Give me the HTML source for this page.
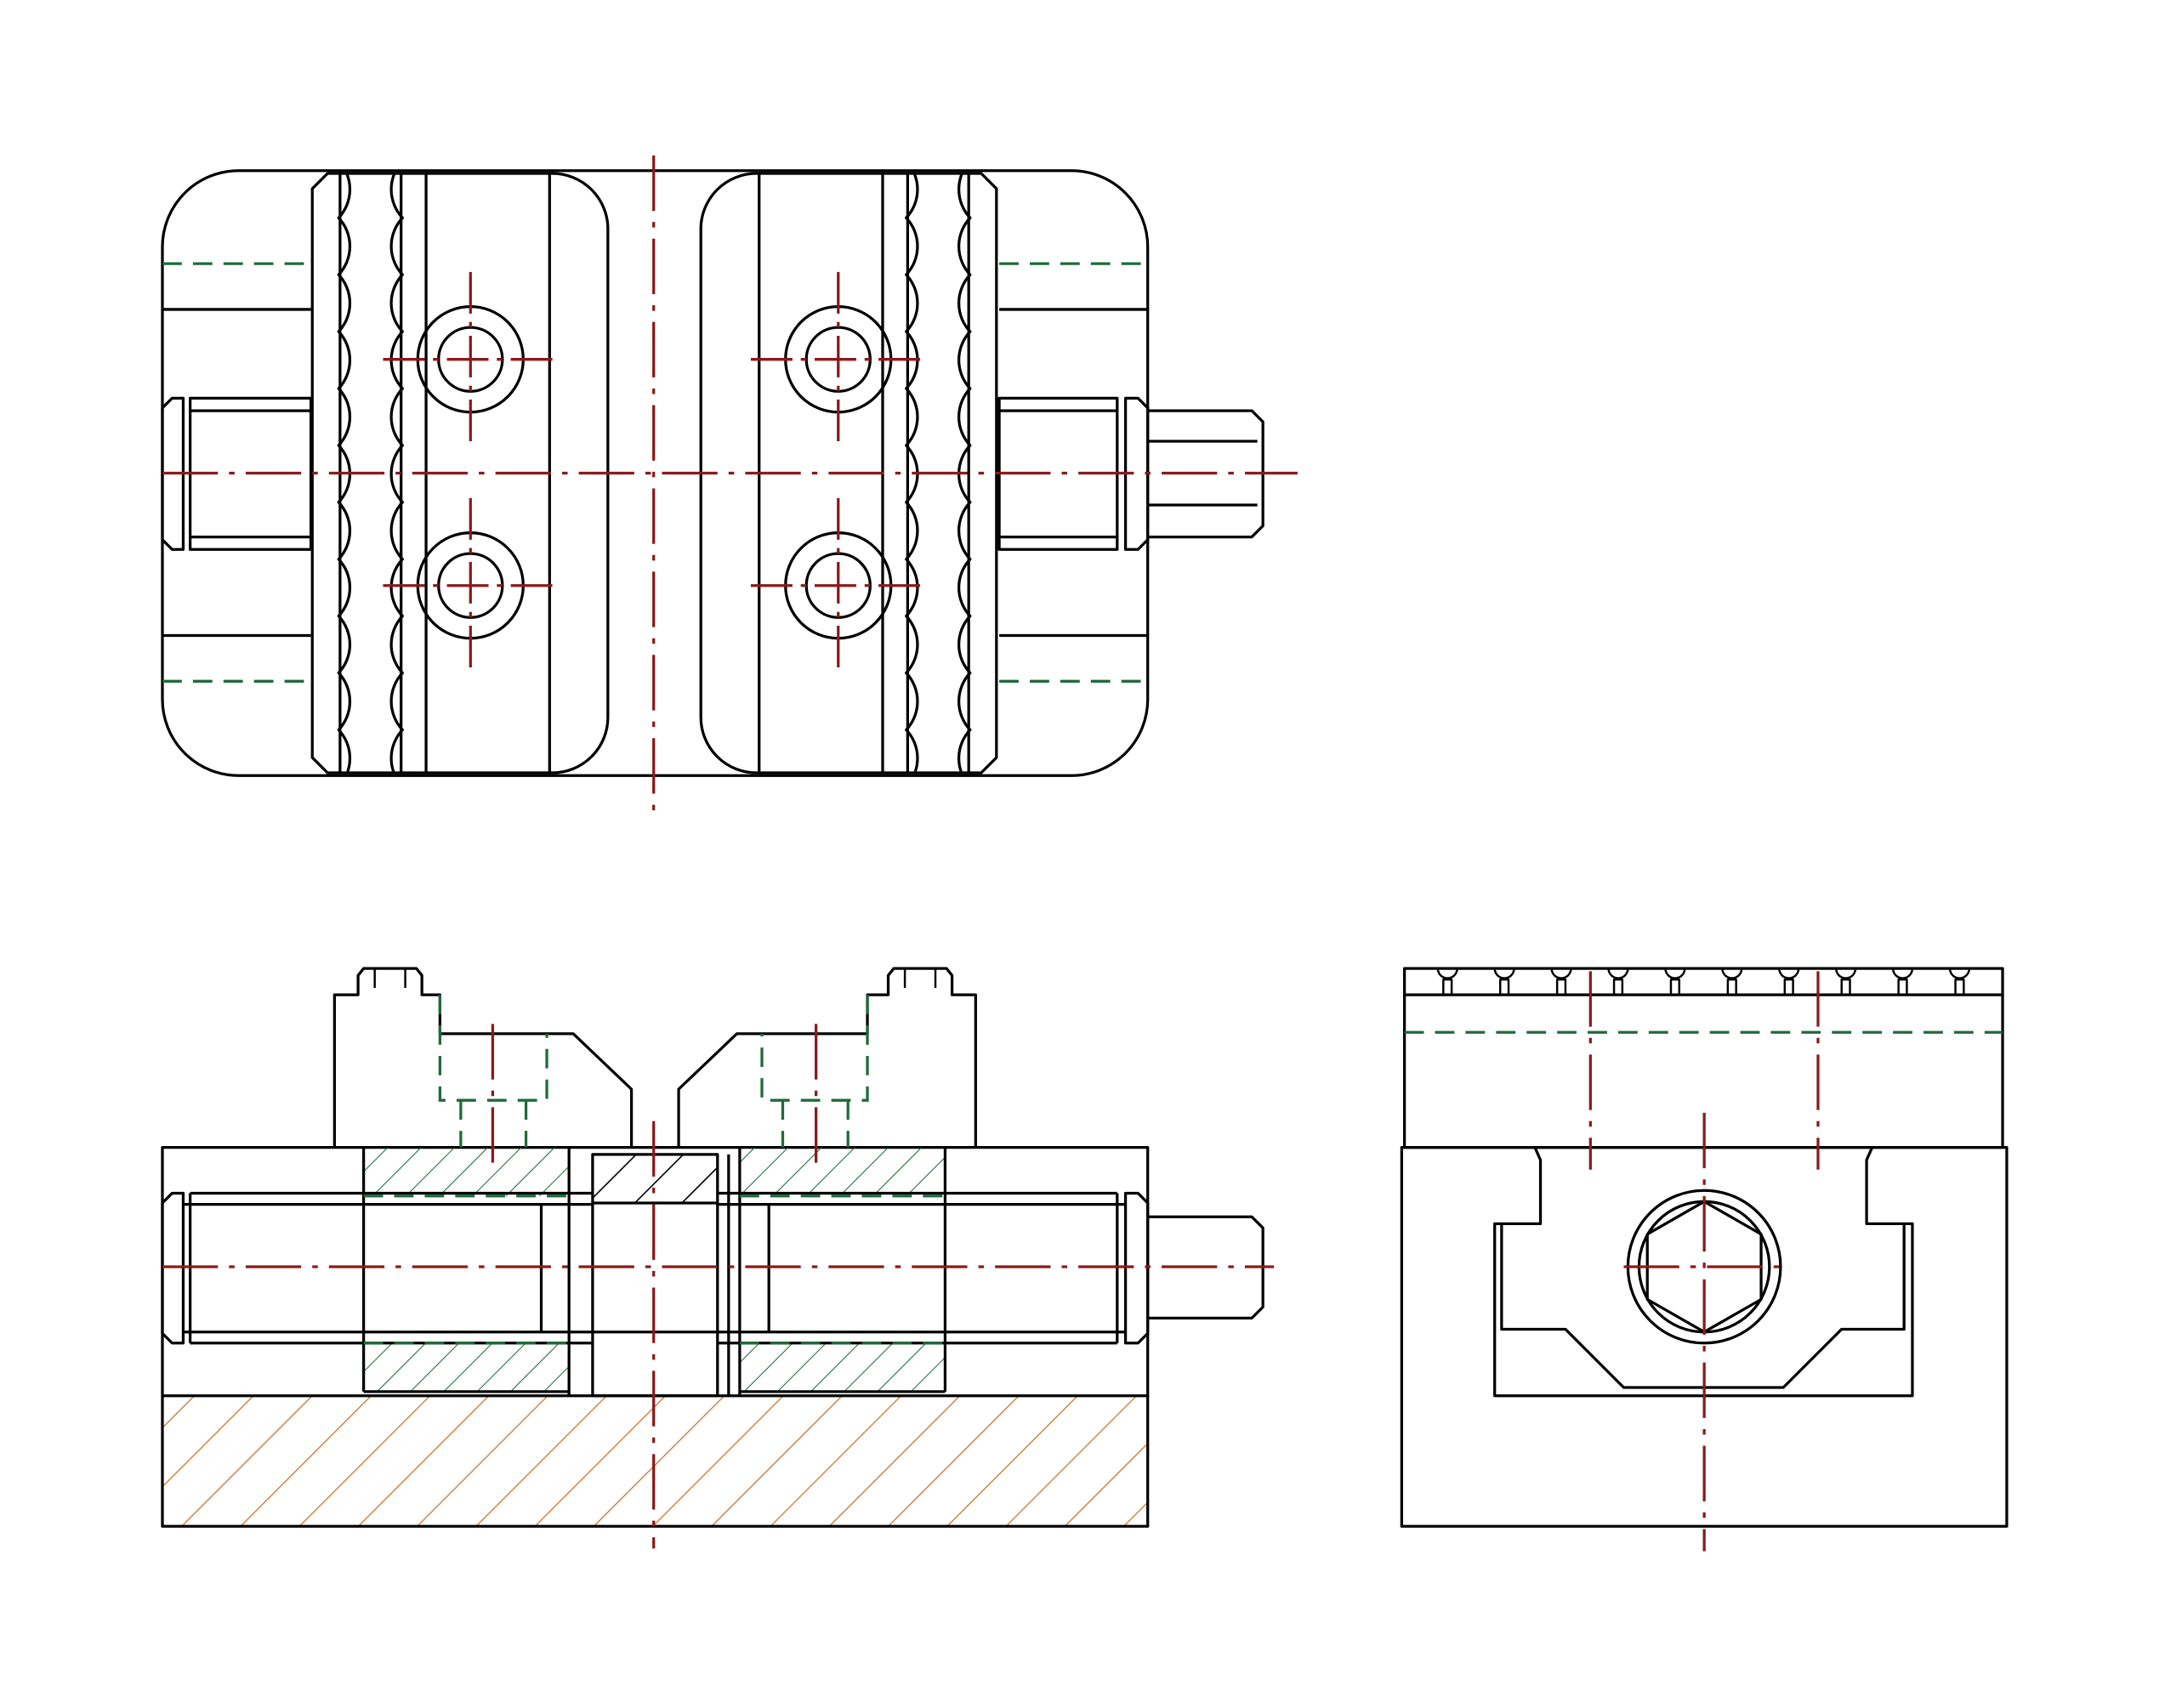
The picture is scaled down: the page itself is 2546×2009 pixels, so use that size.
<!DOCTYPE html>
<html><head><meta charset="utf-8"><style>html,body{margin:0;padding:0;background:#fff}svg{display:block}</style></head>
<body>
<svg width="2546" height="2009" viewBox="0 0 1560 1231" xmlns="http://www.w3.org/2000/svg">
<defs>
<pattern id="ho" patternUnits="userSpaceOnUse" width="30" height="30" patternTransform="rotate(45)">
<line x1="0" y1="0" x2="0" y2="30" stroke="#c87533" stroke-width="1.6"/></pattern>
<pattern id="hg" patternUnits="userSpaceOnUse" width="17" height="17" patternTransform="rotate(45)">
<line x1="0" y1="0" x2="0" y2="17" stroke="#1e6b3a" stroke-width="1.3"/></pattern>
<pattern id="hk" patternUnits="userSpaceOnUse" width="24" height="24" patternTransform="rotate(45)">
<line x1="0" y1="0" x2="0" y2="24" stroke="#000" stroke-width="2"/></pattern>
<clipPath id="jc"><rect x="100" y="126" width="800" height="430"/></clipPath>
</defs>
<g fill="none" stroke="#000" stroke-width="2" stroke-linejoin="round">
<!-- TOP VIEW -->
<path d="M172,123 H772 A55,55 0 0 1 827,178 V504 A55,55 0 0 1 772,559 H172 A55,55 0 0 1 117,504 V178 A55,55 0 0 1 172,123 Z"/>
<line x1="117" y1="223" x2="224" y2="223"/><line x1="117" y1="458" x2="224" y2="458"/>
<line x1="720" y1="223" x2="827" y2="223"/><line x1="720" y1="458" x2="827" y2="458"/>
<path d="M124,287 H132 V396 H124 L117,389 V294 Z"/>
<rect x="137" y="287" width="87" height="109"/><line x1="137" y1="296" x2="224" y2="296"/><line x1="137" y1="387" x2="224" y2="387"/>
<path d="M820,287 H811 V396 H820 L827,389 V294 Z"/>
<rect x="720" y="287" width="85" height="109"/><line x1="720" y1="296" x2="805" y2="296"/><line x1="720" y1="387" x2="805" y2="387"/>
<path d="M827,296 H902 L910,304 V379 L902,387 H827"/><line x1="827" y1="318" x2="906" y2="318"/><line x1="827" y1="364" x2="906" y2="364"/>
<g id="jaw">
<path d="M236,125 H398 A40,40 0 0 1 438,165 V517 A40,40 0 0 1 398,557 H236 L225,546 V136 Z" fill="#fff"/>
<line x1="307" y1="125" x2="307" y2="557"/><line x1="396" y1="125" x2="396" y2="557"/>
<line x1="245" y1="125" x2="245" y2="557"/><line x1="289" y1="125" x2="289" y2="557"/>
<g clip-path="url(#jc)">
<path d="M244,116 A30,30 0 0 1 244,157 A30,30 0 0 1 244,198 A30,30 0 0 1 244,239 A30,30 0 0 1 244,280 A30,30 0 0 1 244,321 A30,30 0 0 1 244,362 A30,30 0 0 1 244,403 A30,30 0 0 1 244,444 A30,30 0 0 1 244,485 A30,30 0 0 1 244,526 A30,30 0 0 1 244,567" />
<path d="M290,116 A30,30 0 0 0 290,157 A30,30 0 0 0 290,198 A30,30 0 0 0 290,239 A30,30 0 0 0 290,280 A30,30 0 0 0 290,321 A30,30 0 0 0 290,362 A30,30 0 0 0 290,403 A30,30 0 0 0 290,444 A30,30 0 0 0 290,485 A30,30 0 0 0 290,526 A30,30 0 0 0 290,567"/>
</g>
<circle cx="339" cy="259" r="38"/><circle cx="339" cy="259" r="23"/>
<circle cx="339" cy="422" r="38"/><circle cx="339" cy="422" r="23"/>
</g>
<use href="#jaw" transform="matrix(-1 0 0 1 943 0)"/>

<!-- FRONT VIEW -->
<rect x="117" y="1006" width="710" height="94" fill="url(#ho)" stroke="none"/>
<rect x="117" y="827" width="710" height="273"/><line x1="117" y1="1006" x2="827" y2="1006"/>
<rect x="262" y="827" width="148" height="35" fill="url(#hg)" stroke="none"/>
<rect x="262" y="968" width="148" height="35" fill="url(#hg)" stroke="none"/>
<rect x="533" y="827" width="148" height="35" fill="url(#hg)" stroke="none"/>
<rect x="533" y="968" width="148" height="35" fill="url(#hg)" stroke="none"/>
<rect x="427" y="832" width="90" height="35" fill="url(#hk)" stroke="none"/>
<line x1="262" y1="827" x2="262" y2="1003"/><line x1="262" y1="1003" x2="410" y2="1003"/><line x1="410" y1="827" x2="410" y2="1006"/>
<line x1="533" y1="827" x2="533" y2="1006"/><line x1="533" y1="1003" x2="681" y2="1003"/><line x1="681" y1="827" x2="681" y2="1003"/>
<rect x="427" y="832" width="90" height="174"/><line x1="427" y1="867" x2="517" y2="867"/><line x1="427" y1="960" x2="517" y2="960"/>
<line x1="525" y1="832" x2="525" y2="1006"/>
<path d="M124,860 H132 V968 H124 L117,961 V867 Z"/>
<path d="M820,860 H811 V968 H820 L827,961 V867 Z"/>
<line x1="137" y1="860" x2="427" y2="860"/><line x1="137" y1="968" x2="427" y2="968"/>
<line x1="132" y1="868" x2="427" y2="868"/><line x1="132" y1="960" x2="427" y2="960"/>
<line x1="137" y1="860" x2="137" y2="968"/>
<line x1="517" y1="860" x2="805" y2="860"/><line x1="517" y1="968" x2="805" y2="968"/>
<line x1="517" y1="868" x2="811" y2="868"/><line x1="517" y1="960" x2="811" y2="960"/>
<line x1="805" y1="860" x2="805" y2="968"/>
<line x1="390" y1="868" x2="390" y2="960"/><line x1="554" y1="868" x2="554" y2="960"/>
<path d="M827,877 H902 L910,885 V942 L902,950 H827"/>
<path d="M241,827 V717 H258 V703 L262,698 H300 L304,703 V717 H317 V745 H413 L455,785 V827"/>
<path d="M703,827 V717 H686 V703 L682,698 H644 L640,703 V717 H625 V745 H531 L489,785 V827"/>
<path d="M270,698 V712 M292,698 V712 M652,698 V712 M674,698 V712" stroke-width="1.5"/>

<!-- SIDE VIEW -->
<rect x="1012" y="698" width="431" height="129"/><line x1="1012" y1="717" x2="1443" y2="717"/>
<g stroke-width="1.5">
<path d="M1040,717 V706 H1046 V717 M1081,717 V706 H1087 V717 M1122,717 V706 H1128 V717 M1163,717 V706 H1169 V717 M1204,717 V706 H1210 V717 M1245,717 V706 H1251 V717 M1286,717 V706 H1292 V717 M1327,717 V706 H1333 V717 M1368,717 V706 H1374 V717 M1409,717 V706 H1415 V717"/>
<path d="M1036,698 A6,6 0 0 0 1050,698 M1077,698 A6,6 0 0 0 1091,698 M1118,698 A6,6 0 0 0 1132,698 M1159,698 A6,6 0 0 0 1173,698 M1200,698 A6,6 0 0 0 1214,698 M1241,698 A6,6 0 0 0 1255,698 M1282,698 A6,6 0 0 0 1296,698 M1323,698 A6,6 0 0 0 1337,698 M1364,698 A6,6 0 0 0 1378,698 M1405,698 A6,6 0 0 0 1419,698"/>
</g>
<rect x="1010" y="827" width="436" height="273"/>
<path d="M1106,827 L1110,836 V882 H1077 V1006 H1378 V882 H1345 V836 L1349,827"/>
<path d="M1082,882 V958 H1128 L1170,1000 H1285 L1327,958 H1372 V882"/>
<circle cx="1228" cy="913" r="55"/><circle cx="1228" cy="913" r="47"/>
<polygon points="1228,866 1269,889.5 1269,936.5 1228,960 1187,936.5 1187,889.5"/>
</g>
<g stroke="#1e6b3a" stroke-width="2" fill="none" stroke-dasharray="14,8">
<line x1="117" y1="190" x2="224" y2="190"/><line x1="117" y1="491" x2="224" y2="491"/>
<line x1="720" y1="190" x2="827" y2="190"/><line x1="720" y1="491" x2="827" y2="491"/>
<line x1="1012" y1="744" x2="1443" y2="744"/>
<path d="M317,717 V793 H394 V745 M332,793 V827 M379,793 V827"/>
<path d="M625,717 V793 H549 V745 M564,793 V827 M611,793 V827"/>
<line x1="262" y1="862" x2="410" y2="862"/><line x1="262" y1="968" x2="410" y2="968"/>
<line x1="533" y1="862" x2="681" y2="862"/><line x1="533" y1="968" x2="681" y2="968"/>
</g>
<g stroke="#8b1a1a" stroke-width="2" fill="none" stroke-dasharray="40,8,4,8">
<line x1="117" y1="341" x2="935" y2="341"/>
<line x1="471" y1="112" x2="471" y2="587"/>
<line x1="117" y1="913" x2="918" y2="913"/>
<line x1="471" y1="808" x2="471" y2="1116"/>
<line x1="355" y1="738" x2="355" y2="838"/><line x1="588" y1="738" x2="588" y2="838"/>
<line x1="1228" y1="802" x2="1228" y2="1118"/>
<line x1="1146" y1="700" x2="1146" y2="843"/><line x1="1310" y1="700" x2="1310" y2="843"/>
<line x1="1170" y1="913" x2="1290" y2="913"/>
</g>
<g stroke="#8b1a1a" stroke-width="2" fill="none" stroke-dasharray="30,6,4,6">
<line x1="276" y1="259" x2="403" y2="259"/><line x1="339" y1="196" x2="339" y2="323"/>
<line x1="276" y1="422" x2="403" y2="422"/><line x1="339" y1="359" x2="339" y2="487"/>
<line x1="541" y1="259" x2="668" y2="259"/><line x1="604" y1="196" x2="604" y2="323"/>
<line x1="541" y1="422" x2="668" y2="422"/><line x1="604" y1="359" x2="604" y2="487"/>
</g>
</svg>
</body></html>
